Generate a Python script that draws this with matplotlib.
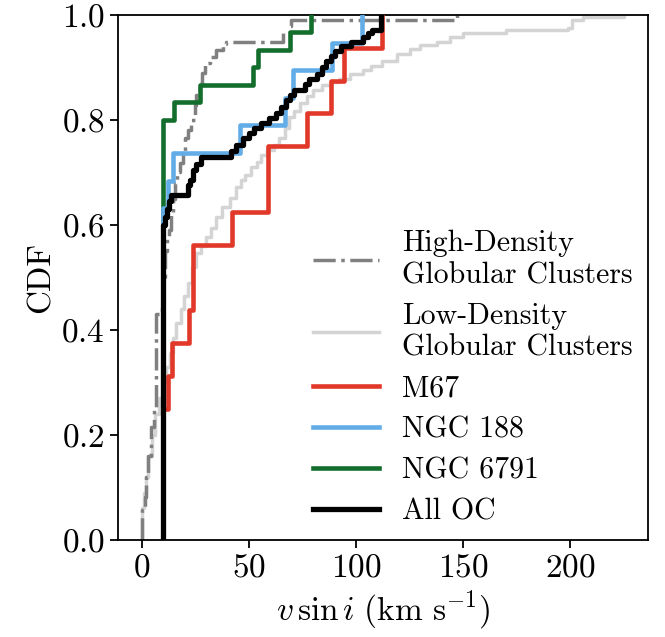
import numpy as np
import matplotlib
matplotlib.use("Agg")
import matplotlib.pyplot as plt

plt.rcParams.update({
    "font.family": "serif",
    "font.serif": ["cmr10"],
    "mathtext.fontset": "cm",
    "axes.formatter.use_mathtext": True,
    "font.size": 24,
})

# ---- data ---------------------------------------------------------------
# open clusters: vsini values (km/s) and how many stars sit at each value
m67_vsini = [10, 12, 14, 22, 23.7, 42, 59, 77, 88, 94.5, 112]
m67_count = [4, 1, 1, 1, 2, 1, 2, 1, 1, 1, 1]

ngc188_vsini = [10, 12, 14.5, 45.6, 66.6, 70.4, 88.8, 102.5]
ngc188_count = [12, 1, 1, 1, 1, 1, 1, 1]

ngc6791_vsini = [10, 15, 27, 52, 54, 69, 79]
ngc6791_count = [24, 1, 1, 1, 1, 1, 1]

# combined open clusters, CDF steps (vsini, cdf)
alloc_vsini = [10, 10.5, 11.5, 12.5, 13.5, 21.4, 22.5, 23.7, 25.3, 27.6, 41.4, 44,
               47, 50, 52.5, 55.5, 59.5, 62.5, 65, 67.4, 69, 71, 76, 78, 81.5, 84,
               86, 88, 90, 93, 97.5, 103, 105.5, 107.5, 111.5]
alloc_cdf = [0.60, 0.615, 0.63, 0.645, 0.657, 0.676, 0.686, 0.705, 0.717, 0.730, 0.740,
             0.752, 0.765, 0.775, 0.784, 0.794, 0.803, 0.813, 0.825, 0.838, 0.848, 0.857,
             0.868, 0.878, 0.888, 0.900, 0.912, 0.922, 0.932, 0.940, 0.948, 0.958, 0.966,
             0.972, 1.0]

# high-density globular clusters
hd_vsini = [0, 1.2, 2, 3, 4.3, 5.8, 6.6, 9.5, 10, 10.5, 11.5, 12.5, 13.5, 14.5, 15.5,
            16.5, 17.5, 19, 20, 21.5, 23, 24.5, 25.3, 26.9, 28, 29.2, 31.5, 34.7, 37.6,
            39.3, 65.7, 68.9, 69.5, 147]
hd_cdf = [0.057, 0.082, 0.12, 0.16, 0.216, 0.248, 0.43, 0.45, 0.50, 0.55, 0.575, 0.59,
          0.62, 0.65, 0.68, 0.70, 0.718, 0.74, 0.765, 0.78, 0.80, 0.829, 0.848, 0.87,
          0.89, 0.908, 0.92, 0.933, 0.945, 0.949, 0.965, 0.979, 0.99, 1.0]

# low-density globular clusters
ld_vsini = [0, 1, 2, 3, 4.5, 6, 8, 10, 11.3, 12.9, 14.5, 16, 18, 19.5, 21.4, 23.5, 25.3,
            27.5, 30, 32, 34.7, 37.5, 41, 44, 46, 48, 51, 53.5, 55.7, 58.5, 61.5, 64,
            66.6, 68.5, 71, 73.6, 77, 80, 84, 88, 92, 97, 103, 107, 112, 119, 125, 130,
            137.5, 144, 150, 170, 199, 201, 206, 225]
ld_cdf = [0.06, 0.09, 0.12, 0.16, 0.20, 0.24, 0.27, 0.30, 0.33, 0.356, 0.385, 0.413,
          0.44, 0.465, 0.489, 0.52, 0.546, 0.56, 0.578, 0.595, 0.616, 0.635, 0.652,
          0.672, 0.686, 0.695, 0.71, 0.72, 0.733, 0.742, 0.752, 0.765, 0.785, 0.805,
          0.818, 0.832, 0.845, 0.857, 0.866, 0.873, 0.878, 0.887, 0.895, 0.903, 0.912,
          0.925, 0.935, 0.943, 0.949, 0.958, 0.966, 0.971, 0.975, 0.99, 0.997, 1.0]

labels = ["High-Density\nGlobular Clusters", "Low-Density\nGlobular Clusters",
          "M67", "NGC 188", "NGC 6791", "All OC"]


def ecdf(values, counts):
    v = np.repeat(values, counts)
    y = np.arange(1, len(v) + 1) / len(v)
    return np.r_[v[0], v], np.r_[0, y]


def steps(x, cdf):
    return np.r_[x[0], x], np.r_[0, cdf]


fig = plt.figure(figsize=(6.65, 6.37), dpi=100)
ax = fig.add_axes([0.1774, 0.1523, 0.797, 0.8242])

x, y = steps(hd_vsini, hd_cdf)
ax.step(x, y, where="post", color="#808080", lw=2.5, ls="-.", label=labels[0], zorder=2)
x, y = steps(ld_vsini, ld_cdf)
ax.step(x, y, where="post", color="#d4d4d4", lw=2.5, label=labels[1], zorder=1)
x, y = ecdf(m67_vsini, m67_count)
ax.step(x, y, where="post", color="#e2382a", lw=3.3, label=labels[2], zorder=3)
x, y = ecdf(ngc188_vsini, ngc188_count)
ax.step(x, y, where="post", color="#62ade8", lw=3.3, label=labels[3], zorder=5)
x, y = ecdf(ngc6791_vsini, ngc6791_count)
ax.step(x, y, where="post", color="#136d2c", lw=3.3, label=labels[4], zorder=4)
x, y = steps(alloc_vsini, alloc_cdf)
ax.step(x, y, where="post", color="black", lw=3.8, label=labels[5], zorder=6)

ax.set_xlim(-11.25, 236.25)
ax.set_ylim(0, 1)
ax.set_xticks([0, 50, 100, 150, 200])
ax.set_yticks([0.0, 0.2, 0.4, 0.6, 0.8, 1.0])
ax.tick_params(length=6, width=1.3)
for s in ax.spines.values():
    s.set_linewidth(1.3)

ax.set_xlabel(r"$v\,\sin i\ (\mathrm{km\ s^{-1}})$")
ax.set_ylabel("CDF")

ax.legend(loc="lower right", frameon=False, fontsize=21.5, borderaxespad=0.1,
          handlelength=2.2, labelspacing=0.45, handletextpad=0.8)

fig.savefig("out.png", dpi=100)
